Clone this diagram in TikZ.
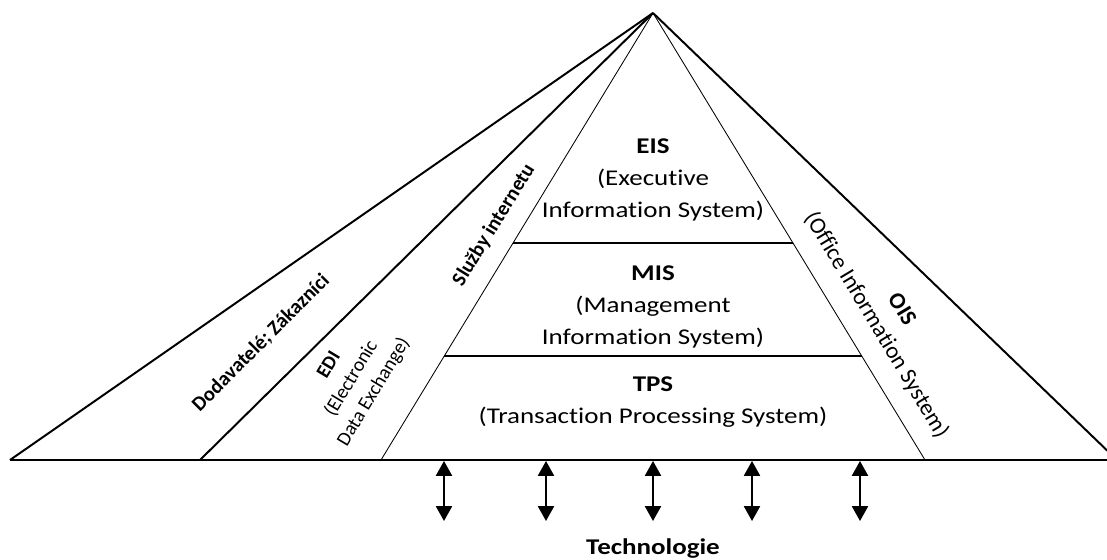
\documentclass[tikz,border=0pt]{standalone}
\usepackage{fontspec}
\setmainfont{Carlito}[Ligatures=NoCommon]
\newfontfamily\widefont{Carlito}[FakeStretch=1.2, Ligatures=NoCommon]
\usetikzlibrary{arrows.meta, calc}

\begin{document}
\begin{tikzpicture}[
    thickline/.style={line width=1.4pt},
    thinline/.style={line width=0.6pt},
    layer/.style={
        align=center,
        font=\widefont\fontsize{16}{22.8}\selectfont
    },
    side/.style={
        align=center,
        font=\fontsize{14}{18.5}\selectfont
    },
    band/.style={
        font=\fontsize{14.6}{17}\selectfont\bfseries
    },
    techarrow/.style={
        line width=1.3pt,
        {Triangle[width=0.4cm,length=0.37cm]}-{Triangle[width=0.4cm,length=0.37cm]}
    }
]

% Frame
\clip (0,0) rectangle (27.675,14);

% Corners
\coordinate (apex) at (16.325,13.675);
\coordinate (outL) at (0.25,2.5);
\coordinate (midL) at (5,2.5);
\coordinate (inL) at (9.525,2.5);
\coordinate (inR) at (23.125,2.5);
\coordinate (outR) at (27.925,2.5);
\coordinate (baseR) at (28.2,2.5);

% Outline
\draw[thickline] (outL) -- (baseR);
\draw[thickline] (apex) -- (outL);
\draw[thickline] (apex) -- (midL);
\draw[thickline] (apex) -- (outR);
\draw[thinline] (apex) -- (inL);
\draw[thinline] (apex) -- (inR);

% Layers
\coordinate (eisL) at ($(apex)!0.5145!(inL)$);
\coordinate (eisR) at ($(apex)!0.5145!(inR)$);
\coordinate (misL) at ($(apex)!0.7673!(inL)$);
\coordinate (misR) at ($(apex)!0.7673!(inR)$);
\draw[line width=1.2pt] (eisL) -- (eisR);
\draw[line width=1.2pt] (misL) -- (misR);

\node[layer] (eis) at (16.325,9.5125) {\textbf{EIS}\\(Executive\\Information System)};
\node[layer] (mis) at (16.325,6.3375) {\textbf{MIS}\\(Management\\Information System)};
\node[layer] (tps) at (16.325,3.9375) {\textbf{TPS}\\(Transaction Processing System)};

% Side bands
\node[band, rotate=45] (supp) at (6.525,5.425) {Dodavatelé; Zákazníci};
\node[band, rotate=58.5] (inet) at (12.35,8.375) {Služby internetu};
\node[side, rotate=59] (edi) at (8.8,4.525) {\textbf{EDI}\\(Electronic\\Data Exchange)};
\node[side, rotate=-59, font=\fontsize{16.5}{21.3}\selectfont] (ois) at (22.2125,6.0625) {\textbf{OIS}\\(Office Information System)};

% Technology
\foreach \x [count=\i] in {11.1,13.65,16.325,18.8,21.5} {
    \coordinate (up\i) at (\x,2.475);
    \coordinate (dn\i) at (\x,0.975);
    \draw[techarrow] (up\i) -- (dn\i);
}
\node[font=\widefont\fontsize{16}{20}\selectfont\bfseries, anchor=base] (tech) at (16.325,0.13) {Technologie};

\end{tikzpicture}
\end{document}
